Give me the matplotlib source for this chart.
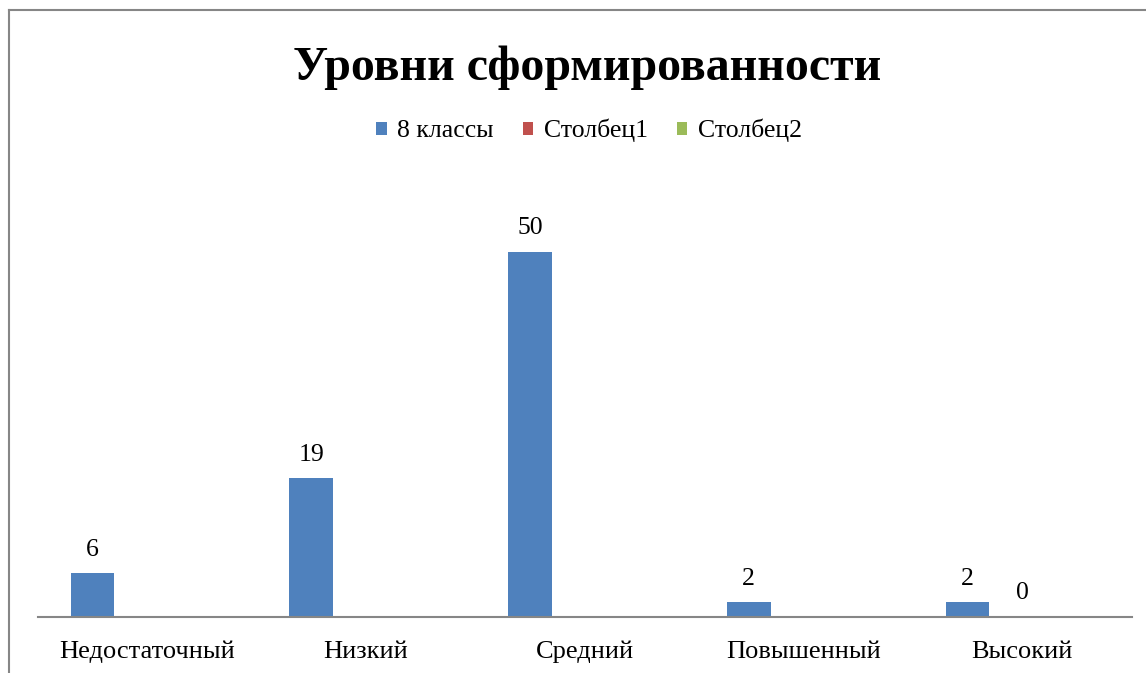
import numpy as np
import matplotlib.pyplot as plt
from matplotlib.lines import Line2D

# data
categories = ['Недостаточный', 'Низкий', 'Средний', 'Повышенный', 'Высокий']
series_names = ['8 классы', 'Столбец1', 'Столбец2']
klassy8 = [6, 19, 50, 2, 2]
stolbec1 = [None, None, None, None, 0]
stolbec2 = [None, None, None, None, None]

colors = ['#4F81BD', '#C0504D', '#9BBB59']
plt.rcParams['font.family'] = ['Liberation Serif', 'DejaVu Serif']

fig = plt.figure(figsize=(11.46, 6.73), dpi=100)
ax = fig.add_axes([0.0329, 0.0832, 0.9546, 0.651])

x = np.arange(len(categories))
offsets = [-0.25, 0.0, 0.25]
width = 0.2
for vals, off, col, name in zip([klassy8, stolbec1, stolbec2], offsets, colors, series_names):
    h = [v if v is not None else 0 for v in vals]
    ax.bar(x + off, h, width=width, color=col, label=name)
    for xi, v in zip(x, vals):
        if v is None:
            continue
        ax.annotate(str(v), (xi + off, v), xytext=(0, 17), textcoords='offset points',
                    ha='center', va='center', fontsize=18.5)

ax.set_xlim(-0.5, len(categories) - 0.5)
ax.set_ylim(0, 60)
ax.set_xticks(x)
ax.set_xticklabels(categories, fontsize=19)
ax.tick_params(axis='x', length=0, pad=17)
ax.set_yticks([])
for s in ['top', 'right', 'left']:
    ax.spines[s].set_visible(False)
ax.spines['bottom'].set_color('#868686')
ax.spines['bottom'].set_linewidth(1.5)

fig.text(0.512, 0.900, 'Уровни сформированности', ha='center', va='center',
         fontsize=34.5, fontweight='bold')

fig.legend(loc='center', bbox_to_anchor=(0.514, 0.806), ncol=3, frameon=False,
           fontsize=18.5, handlelength=0.4, handleheight=0.4, handletextpad=0.4,
           columnspacing=1.15)

# chart frame, cut off at the right and bottom edges
fig.add_artist(Line2D([9 / 1146, 9 / 1146], [0, 1 - 10 / 673], color='#868686', lw=1.5,
                      transform=fig.transFigure))
fig.add_artist(Line2D([9 / 1146, 1], [1 - 10 / 673, 1 - 10 / 673], color='#868686', lw=1.5,
                      transform=fig.transFigure))

fig.savefig('out.png', dpi=100)
